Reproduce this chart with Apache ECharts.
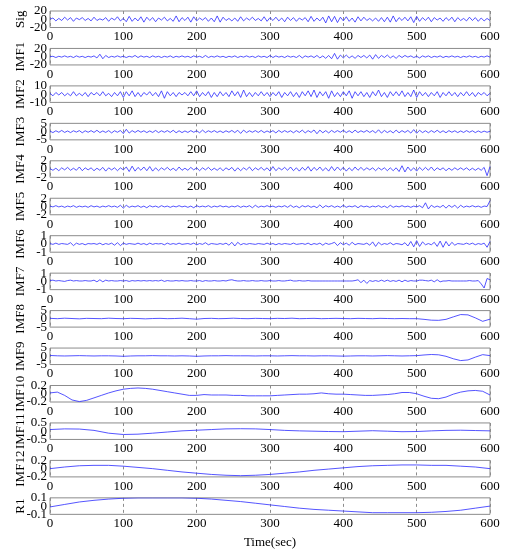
<!DOCTYPE html>
<html>
<head>
<meta charset="utf-8">
<script src="https://cdn.jsdelivr.net/npm/echarts@6/dist/echarts.min.js"></script>
<style>
  html, body { margin: 0; padding: 0; background: #fff; }
  #emd { width: 507px; height: 550px; }
</style>
</head>
<body>
<div id="emd"></div>
<script>
// panel names, top to bottom
var names = ['Sig', 'IMF1', 'IMF2', 'IMF3', 'IMF4', 'IMF5', 'IMF6', 'IMF7', 'IMF8', 'IMF9', 'IMF10', 'IMF11', 'IMF12', 'R1'];
// symmetric y limits of each panel (ticks at -lim, 0, lim)
var yLims = [20, 20, 10, 5, 2, 2, 1, 1, 5, 5, 0.2, 0.5, 0.2, 0.1];
var xTicks = [0, 100, 200, 300, 400, 500, 600];

var sig = [
0,3,-4,2,-3,5,-2,4,-5,3,-1,4,-3,2,-4,5,-3,1,-2,4,
-5,3,-2,6,-4,2,-6,7,-5,3,-4,6,-7,5,-3,4,-6,3,-2,5,
-4,2,-5,8,-6,4,-3,5,-7,6,-4,3,-2,4,-5,3,-6,8,-7,5,
-3,2,-4,3,-5,6,-4,3,-2,5,-3,2,-4,6,-5,4,-3,5,-4,3,
-6,5,-3,4,-5,3,-2,4,-6,7,-5,3,-4,5,-9,8,-6,7,-8,5,
-4,6,-5,3,-7,6,-4,5,-3,2,-4,3,-5,4,-6,5,-7,8,-6,4,
-3,5,-4,6,-8,7,-5,4,-3,5,-6,4,-2,3,-5,4,-3,5,-6,4,
-3,2,-4,5,-3,4,-5,3,-4,2,-3
];
var imf1 = [
0,1,-2,1,-1,2,-1,1,-2,2,-1,1,-2,1,-1,2,-3,6,-5,3,
-2,1,-1,2,-1,1,-2,1,-1,3,-2,2,-1,1,-2,2,-1,1,-2,1,
-1,2,-2,1,-1,2,-1,1,-2,2,-1,1,-2,3,-2,1,-1,2,-1,1,
-2,1,-1,2,-2,1,-1,2,-1,1,-2,2,-1,1,-2,3,-2,2,-1,1,
-2,2,-1,1,-2,3,-3,2,-1,2,-2,3,-3,2,-4,3,-5,8,-6,4,
-3,4,-3,2,-4,3,-2,3,-3,4,-6,5,-4,3,-2,4,-3,2,-4,3,
-2,3,-1,2,-2,1,-3,2,-1,2,-2,1,-1,2,-2,1,-1,2,-1,1,
-2,1,-1,2,-1,1,-2,1,-1,2,-1
];
var imf2 = [
1,-2,2,-1,2,-2,1,-2,3,-2,1,-2,2,-3,2,-1,2,-2,3,-2,
1,-3,2,-2,3,-4,3,-2,4,-3,2,-3,2,-1,3,-2,2,-3,4,-5,
3,-2,2,-3,2,-1,2,-2,3,-2,4,-3,2,-2,3,-4,2,-3,3,-2,
2,-3,4,-2,3,-4,5,-3,2,-3,2,-2,3,-2,2,-3,2,-2,3,-4,
2,-2,3,-3,2,-4,3,-2,4,-3,5,-4,3,-2,3,-5,4,-3,2,-3,
3,-2,4,-5,3,-2,3,-3,2,-4,3,-2,5,-3,2,-4,3,-2,3,-2,
4,-3,2,-3,5,-4,3,-2,2,-3,2,-2,3,-4,2,-2,3,-2,2,-3,
2,-2,3,-2,2,-3,2,-1,2,-2,1
];
var imf3 = [
0.3,-0.6,0.5,-0.4,0.7,-0.5,0.4,-0.6,0.5,-0.3,0.6,-0.7,0.5,-0.4,0.6,-0.5,0.8,-0.6,0.4,-0.5,
0.6,-0.8,0.5,-0.4,0.7,-1.2,1.4,-0.9,0.6,-0.5,0.7,-0.4,0.5,-0.6,0.4,-0.5,0.7,-0.6,0.5,-0.4,
0.6,-0.5,0.8,-0.7,0.5,-0.6,0.4,-0.5,0.6,-0.4,0.5,-0.7,0.9,-0.6,0.5,-0.4,0.6,-0.5,0.4,-0.6,
0.5,-0.4,0.7,-0.6,0.8,-1.1,0.9,-0.6,0.5,-0.4,0.6,-0.5,0.7,-0.6,0.4,-0.5,0.6,-0.8,0.7,-0.5,
0.6,-0.4,0.5,-0.7,0.6,-0.5,0.9,-0.8,0.6,-0.5,1.0,-1.3,0.9,-0.7,0.6,-0.8,0.7,-0.5,0.6,-0.4,
0.8,-0.6,0.5,-0.7,0.9,-0.6,0.5,-0.4,0.7,-0.5,0.6,-0.8,1.1,-0.9,0.7,-0.6,0.5,-0.8,0.9,-0.7,
0.6,-0.5,0.7,-0.9,1.2,-1.0,0.8,-0.6,0.5,-0.7,0.6,-0.5,0.8,-0.6,0.5,-0.7,0.6,-0.4,0.5,-0.6,
0.4,-0.5,0.6,-0.4,0.5,-0.6,0.4,-0.5,0.3,-0.4,0.2
];
var imf4 = [
0.1,-0.3,0.2,-0.4,0.3,-0.2,0.4,-0.3,0.2,-0.3,0.5,-0.4,0.3,-0.2,0.3,-0.4,0.2,-0.3,0.4,-0.5,
0.3,-0.2,0.3,-0.4,0.3,-0.2,0.5,-0.6,0.7,-0.5,0.4,-0.3,0.5,-0.4,0.6,-0.5,0.3,-0.4,0.3,-0.2,
0.4,-0.3,0.2,-0.4,0.5,-0.3,0.2,-0.3,0.4,-0.2,0.3,-0.4,0.3,-0.2,0.4,-0.3,0.2,-0.3,0.3,-0.4,
0.3,-0.2,0.4,-0.5,0.3,-0.4,0.3,-0.2,0.5,-0.4,0.3,-0.2,0.4,-0.3,0.3,-0.5,0.6,-0.4,0.3,-0.2,
0.4,-0.3,0.5,-0.4,0.3,-0.5,0.4,-0.3,0.6,-0.5,0.4,-0.3,0.5,-0.4,0.3,-0.5,0.6,-0.4,0.5,-0.3,
0.4,-0.5,0.3,-0.4,0.5,-0.3,0.4,-0.3,0.3,-0.2,0.3,-0.4,0.3,-0.2,0.3,-0.4,0.3,-0.4,0.3,-0.6,
0.8,-0.7,0.5,-0.4,0.3,-0.5,0.4,-0.3,0.4,-0.3,0.5,-0.4,0.3,-0.2,0.3,-0.4,0.2,-0.3,0.3,-0.2,
0.3,-0.2,0.3,-0.3,0.2,-0.3,0.2,-0.3,0.4,-1.6,0.6
];
var imf5 = [
0.1,-0.1,0.2,-0.1,0.1,-0.2,0.1,-0.1,0.2,-0.2,0.1,-0.1,0.1,-0.2,0.2,-0.1,0.1,-0.2,0.1,-0.1,
0.2,-0.1,0.1,-0.2,0.3,-0.4,0.3,-0.2,0.1,-0.1,0.2,-0.2,0.1,-0.3,0.2,-0.1,0.1,-0.2,0.2,-0.1,
0.1,-0.2,0.1,-0.1,0.2,-0.1,0.1,-0.2,0.1,-0.3,0.2,-0.1,0.1,-0.1,0.2,-0.2,0.1,-0.1,0.2,-0.1,
0.1,-0.2,0.1,-0.1,0.2,-0.2,0.1,-0.1,0.2,-0.3,0.3,-0.2,0.1,-0.1,0.2,-0.1,0.1,-0.2,0.1,-0.1,
0.2,-0.2,0.3,-0.2,0.1,-0.3,0.2,-0.1,0.2,-0.2,0.1,-0.3,0.4,-0.3,0.2,-0.1,0.2,-0.2,0.1,-0.2,
0.3,-0.2,0.1,-0.1,0.2,-0.3,0.2,-0.1,0.1,-0.2,0.1,-0.1,0.2,-0.2,0.1,-0.3,0.3,-0.2,0.1,-0.1,
0.2,-0.1,0.1,-0.2,0.1,-0.1,0.2,-0.3,0.9,-0.6,0.3,-0.2,0.1,-0.2,0.3,-0.4,0.3,-0.2,0.3,-0.4,
0.3,-0.2,0.1,-0.1,0.2,-0.1,0.1,-0.2,0.1,0.0,1.4
];
var imf6 = [
0.05,-0.05,0.1,-0.05,0.05,0.0,-0.05,0.15,-0.2,0.1,-0.05,0.05,-0.1,0.05,0.0,0.05,-0.05,0.1,-0.1,0.05,
-0.05,0.1,-0.15,0.15,-0.2,0.1,-0.05,0.05,0.0,-0.05,0.1,-0.05,0.05,-0.1,0.1,-0.05,0.05,0.0,0.05,-0.1,
0.1,-0.05,0.05,-0.05,0.1,-0.05,0.0,0.05,-0.05,0.1,-0.1,0.05,-0.05,0.15,-0.1,0.05,0.0,-0.05,0.05,-0.05,
0.1,-0.15,0.2,-0.25,0.2,-0.1,0.05,-0.05,0.05,0.0,-0.05,0.05,0.0,-0.05,0.1,-0.05,0.05,-0.1,0.05,-0.05,
0.05,0.0,-0.05,0.1,-0.05,0.0,0.05,-0.05,0.1,-0.1,0.05,-0.05,0.1,-0.15,0.1,-0.05,0.05,0.2,-0.2,0.15,
-0.1,0.1,-0.15,0.2,-0.1,0.05,0.0,-0.05,0.1,-0.15,0.25,-0.3,0.2,-0.1,0.05,-0.05,0.15,-0.1,0.05,0.0,
-0.1,0.15,-0.25,0.3,-0.35,0.4,-0.3,0.25,-0.1,0.05,-0.1,0.2,-0.3,0.35,-0.4,0.3,-0.25,0.2,-0.15,0.05,
0.0,-0.05,0.1,-0.05,0.1,-0.1,0.05,-0.05,0.1,-0.4,0.3
];
var imf7 = [
0.1,0.15,0.05,0.1,0.05, 0.0,0.1,0.15,0.05,0.1, 0.05,0.05,0.1,0.05,0.05, 0.15,-0.05,0.2,-0.05,0.15,
0.05,0.1,0.05,0.05,0.1, 0.05,0.1,0.0,0.1,0.05, 0.1,0.05,0.1,0.05,0.1, 0.05,0.1,0.05,0.15,0.0,
0.1,0.05,0.05,0.1,0.05, 0.1,0.05,0.05,0.1,0.05, 0.05,0.1,0.0,0.1,0.05, 0.05,0.1,0.05,0.05,0.1,
0.05,0.15,0.2,0.1,0.05, 0.05,0.1,0.05,0.05,0.1, 0.05,0.05,0.1,0.05,0.05, 0.1,0.05,0.05,0.1,0.05,
0.05,0.1,0.15,0.05,0.05, 0.1,0.05,0.05,0.1,0.05, 0.05,0.05,0.05,0.05,0.05, 0.05,0.05,0.05,0.05,0.05,
0.05,0.05,0.05,0.05,0.1, 0.2,-0.15,0.15,-0.25,0.1, 0.0,0.1,0.0,0.15,0.0, 0.15,0.0,0.1,0.0,0.15,
-0.05,0.15,0.0,0.1,0.05, 0.05,0.15,0.15,0.1,0.05, 0.15,-0.05,0.2,-0.05,0.05, 0.05,0.1,0.05,0.05,0.05,
0.05,0.05,0.05,0.1,0.05, 0.05,0.1,-0.3,-0.8,0.35,0.2
];
var imf8 = [
0.3,0.1,0.4,0.2,0.0,0.3,0.2,0.1,0.4,0.2,
0.1,0.3,0.2,0.0,0.2,0.3,0.1,0.2,0.4,0.1,
-0.2,0.2,0.3,0.1,0.2,0.4,0.2,0.1,0.3,0.2,
0.1,0.3,0.2,0.4,0.1,0.2,0.3,0.1,0.2,0.3,
0.2,0.1,0.3,0.2,0.1,0.3,0.2,0.1,0.2,0.1,
0.1,-0.3,-0.8,-0.9,-0.3,1.2,2.6,2.4,0.6,-1.5,-0.2
];
var imf9 = [
0.5,0.3,0.2,0.3,0.4,0.3,0.2,0.3,0.3,0.2,
0.0,0.2,0.3,0.3,0.4,0.3,0.3,0.2,0.3,0.2,
0.0,0.2,0.3,0.3,0.4,0.3,0.3,0.3,0.2,0.3,
0.3,0.2,0.3,0.4,0.3,0.3,0.2,0.3,0.3,0.2,
0.1,0.2,0.3,0.3,0.2,0.3,0.4,0.3,0.2,0.3,
0.4,0.8,1.1,0.9,0.0,-1.5,-2.6,-2.2,-0.5,1.0,0.4
];
var imf10 = [
0.02,0.04,-0.04,-0.15,-0.19,-0.16,-0.1,-0.04,0.02,0.07,
0.11,0.13,0.14,0.13,0.11,0.08,0.05,0.02,-0.01,-0.04,
-0.04,-0.02,-0.03,-0.03,-0.03,-0.04,-0.04,-0.05,-0.05,-0.05,
-0.05,-0.04,-0.03,-0.02,-0.01,-0.01,0.0,0.02,0.0,-0.01,
-0.01,-0.02,-0.03,-0.04,-0.04,-0.03,-0.02,0.0,0.03,0.03,
0.0,-0.06,-0.11,-0.12,-0.08,-0.01,0.04,0.07,0.08,0.06,-0.03
];
var imf11 = [
0.1,0.14,0.13,0.05,-0.12,-0.2,-0.18,-0.12,-0.05,0.02,
0.06,0.1,0.14,0.15,0.14,0.1,0.05,0.02,0.0,-0.02,
-0.03,0.0,0.03,0.0,-0.03,-0.02,0.02,0.05,0.06,0.04,0.02
];
var imf12 = [
0.0,0.04,0.07,0.08,0.08,0.06,0.03,0.0,-0.04,-0.08,
-0.11,-0.14,-0.16,-0.17,-0.16,-0.14,-0.11,-0.08,-0.04,-0.01,
0.02,0.05,0.07,0.08,0.09,0.09,0.08,0.08,0.06,0.04,0.0
];
var r1 = [
-0.01,0.02,0.05,0.07,0.085,0.095,0.1,0.1,0.1,0.1,
0.095,0.085,0.07,0.055,0.035,0.015,-0.005,-0.025,-0.04,-0.05,
-0.06,-0.07,-0.08,-0.08,-0.08,-0.08,-0.075,-0.065,-0.05,-0.025,0.0
];

var allData = [sig, imf1, imf2, imf3, imf4, imf5, imf6, imf7, imf8, imf9, imf10, imf11, imf12, r1];

var dom = document.getElementById('emd');
var myChart = echarts.init(dom);

var font = 'Liberation Serif';
var grids = [], xAxes = [], yAxes = [], series = [];

function yAxisFor(i, showZero) {
    var lim = yLims[i];
    return {
        type: 'value', gridIndex: i, position: 'left',
        min: -lim, max: lim, interval: lim,
        axisLine: { show: false }, axisTick: { show: false },
        splitLine: { show: false },
        axisLabel: {
            color: '#000', fontFamily: font, fontSize: 13, margin: 3,
            showMinLabel: true, showMaxLabel: true, hideOverlap: false,
            // the zero label and the end labels overlap in such thin panels,
            // so they live on two stacked axes
            formatter: function (v) {
                var isZero = Math.abs(v) < 1e-9;
                if (showZero) return isZero ? '0' : '';
                return isZero ? '' : String(v);
            }
        },
        name: showZero ? names[i] : '',
        nameLocation: 'middle', nameRotate: 90, nameGap: 23,
        nameTextStyle: { color: '#000', fontFamily: font, fontSize: 13 }
    };
}

for (var i = 0; i < names.length; i++) {
    grids.push({
        left: 50, right: 17,
        top: 11 + 37.45 * i, height: 16.5,
        containLabel: false, outerBoundsMode: 'none',
        show: true, borderColor: '#8c8c8c', borderWidth: 1,
        backgroundColor: '#fff'
    });
    var last = i === names.length - 1;
    xAxes.push({
        type: 'value', gridIndex: i,
        min: xTicks[0], max: xTicks[xTicks.length - 1], interval: 100,
        axisLine: { show: false }, axisTick: { show: false },
        axisLabel: { color: '#000', fontFamily: font, fontSize: 13, margin: 3, hideOverlap: false },
        splitLine: { show: true, lineStyle: { color: '#8c8c8c', type: [3, 3], width: 1 } },
        name: last ? 'Time(sec)' : '',
        nameLocation: 'middle', nameGap: 22,
        nameTextStyle: { color: '#000', fontFamily: font, fontSize: 13 }
    });
    yAxes.push(yAxisFor(i, true));
    yAxes.push(yAxisFor(i, false));
    var vals = allData[i];
    var step = 600 / (vals.length - 1);
    series.push({
        type: 'line', xAxisIndex: i, yAxisIndex: 2 * i,
        data: vals.map(function (v, k) { return [k * step, v]; }),
        showSymbol: false, symbol: 'none',
        lineStyle: { color: '#2a2aff', width: 0.8 },
        silent: true
    });
}

option = {
    backgroundColor: '#fff',
    animation: false,
    grid: grids,
    xAxis: xAxes,
    yAxis: yAxes,
    series: series
};

if (option && typeof option === "object") {
    myChart.setOption(option, true);
}
</script>
</body>
</html>
